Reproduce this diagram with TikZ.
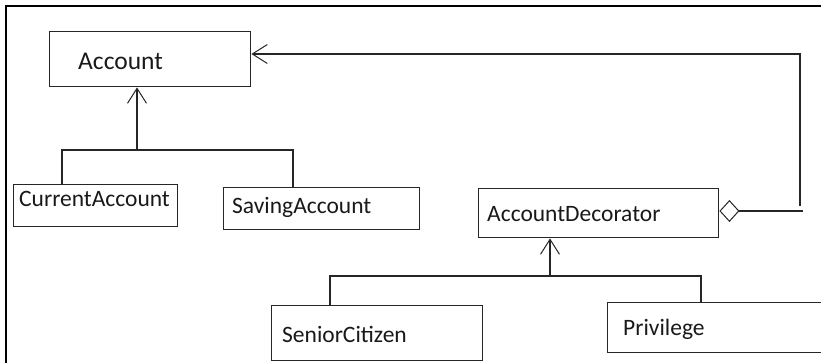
\documentclass[tikz,border=0pt]{standalone}
\usepackage{fontspec}
\setmainfont{Carlito}
\usetikzlibrary{arrows.meta}
\tikzset{
  box/.style={draw=black!85, line width=1.4pt, rectangle, inner sep=0pt, anchor=north west},
  lbl/.style={anchor=base west, inner sep=0pt, font=\fontsize{23.5}{26}\selectfont, text=black!90},
  conn/.style={draw=black!85, line width=1.4pt},
  inh/.style={conn, -{Straight Barb[length=15pt,width=19pt,line width=1pt]}},
  agg/.style={conn, {Diamond[open,length=20pt,width=22pt,line width=1pt]}-},
}
\begin{document}
\begin{tikzpicture}[x=1pt,y=-1pt]
\useasboundingbox (0,0) rectangle (821,363);
\clip (0,0) rectangle (821,363);
% frame
\draw[line width=2.6pt, black] (6,380) -- (6,6) -- (840,6);
% boxes
\node[box, minimum width=201pt, minimum height=55pt] (acc) at (49,31) {};
\node[box, minimum width=164pt, minimum height=42pt] (cur) at (13,184) {};
\node[box, minimum width=196pt, minimum height=42pt] (sav) at (223,187) {};
\node[box, minimum width=240pt, minimum height=49pt] (dec) at (478,188) {};
\node[box, minimum width=211pt, minimum height=55pt] (sen) at (271,305) {};
\node[box, minimum width=230pt, minimum height=50pt] (pri) at (607,302) {};
% labels
\node[lbl, font=\fontsize{25.5}{28}\selectfont] (accT) at (78,70) {Account};
\node[lbl] (curT) at (19,207) {CurrentAccount};
\node[lbl] (savT) at (232,214) {SavingAccount};
\node[lbl] (decT) at (487,222) {AccountDecorator};
\node[lbl] (senT) at (282,342) {SeniorCitizen};
\node[lbl] (priT) at (623,335) {Privilege};
% inheritance to Account
\coordinate (accJ) at (137,150);
\coordinate (curJ) at (62,150);
\coordinate (savJ) at (293,150);
\draw[inh] (accJ) -- (accJ |- acc.south);
\draw[conn] (curJ |- cur.north) -- (curJ) -- (savJ) -- (savJ |- sav.north);
% inheritance to AccountDecorator
\coordinate (decJ) at (550,276);
\coordinate (senJ) at (330,276);
\coordinate (priJ) at (701,276);
\draw[inh] (decJ) -- (decJ |- dec.south);
\draw[conn] (senJ |- sen.north) -- (senJ) -- (priJ) -- (priJ |- pri.north);
% aggregation
\coordinate (aggE) at (803,211);
\coordinate (cb) at (800,206);
\coordinate (ct) at (800,54);
\draw[agg] (dec.east |- aggE) -- (aggE);
\draw[inh] (cb) -- (ct) -- (ct -| acc.east);
\end{tikzpicture}
\end{document}
